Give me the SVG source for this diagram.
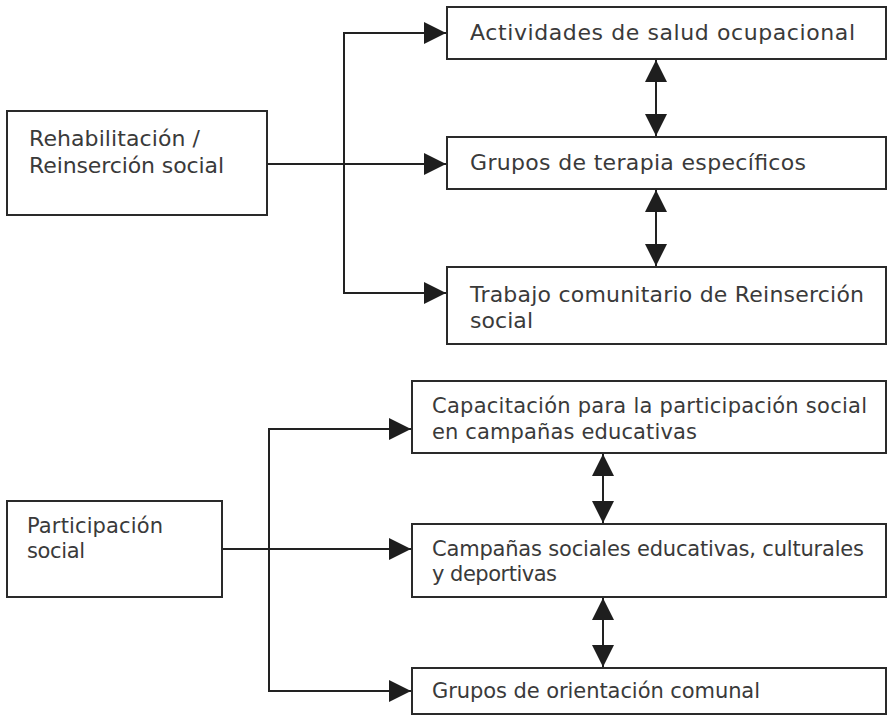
<svg xmlns="http://www.w3.org/2000/svg" width="888" height="716" viewBox="0 0 888 716">
  <style>
    .box { fill: #ffffff; stroke: #2a2a2a; stroke-width: 2; }
    .lbl { font-family: "DejaVu Sans", "Liberation Sans", sans-serif; fill: #3a3a3a; }
    .t { font-size: 22px; }
    .b { font-size: 21px; }
    .wire { fill: none; stroke: #222222; stroke-width: 2; }
  </style>
  <defs>
    <marker id="ah" markerWidth="24" markerHeight="24" refX="22" refY="11" orient="auto-start-reverse" markerUnits="userSpaceOnUse">
      <path d="M0,0 L22,11 L0,22 z" fill="#1e1e1e"/>
    </marker>
  </defs>

  <rect width="888" height="716" fill="#ffffff"/>

  <!-- connectors -->
  <g id="connectors">
    <!-- upper tree -->
    <path class="wire" d="M267,164 H344"/>
    <path class="wire" d="M446,33 H344 V293 H446" marker-end="url(#ah)"/>
    <path class="wire" d="M344,33 H446" marker-end="url(#ah)"/>
    <path class="wire" d="M344,164 H446" marker-end="url(#ah)"/>
    <path class="wire" d="M656,60 V136" marker-start="url(#ah)" marker-end="url(#ah)"/>
    <path class="wire" d="M656,190 V266" marker-start="url(#ah)" marker-end="url(#ah)"/>
    <!-- lower tree -->
    <path class="wire" d="M222,549 H269"/>
    <path class="wire" d="M411,429 H269 V691 H411" marker-end="url(#ah)"/>
    <path class="wire" d="M269,429 H411" marker-end="url(#ah)"/>
    <path class="wire" d="M269,549 H411" marker-end="url(#ah)"/>
    <path class="wire" d="M603,454 V523" marker-start="url(#ah)" marker-end="url(#ah)"/>
    <path class="wire" d="M603,598 V667" marker-start="url(#ah)" marker-end="url(#ah)"/>
  </g>

  <!-- upper group -->
  <g id="rehabilitacion">
    <rect class="box" x="7" y="111" width="260" height="104"/>
    <text class="lbl t" x="29" y="146" textLength="171">Rehabilitación /</text>
    <text class="lbl t" x="29" y="173" textLength="195">Reinserción social</text>
  </g>
  <g id="salud-ocupacional">
    <rect class="box" x="447" y="7" width="439" height="52"/>
    <text class="lbl t" x="470" y="40" textLength="385">Actividades de salud ocupacional</text>
  </g>
  <g id="grupos-terapia">
    <rect class="box" x="447" y="137" width="439" height="52"/>
    <text class="lbl t" x="470" y="170" textLength="336">Grupos de terapia específicos</text>
  </g>
  <g id="trabajo-comunitario">
    <rect class="box" x="447" y="267" width="439" height="77"/>
    <text class="lbl t" x="470" y="302" textLength="394">Trabajo comunitario de Reinserción</text>
    <text class="lbl t" x="470" y="328" textLength="63">social</text>
  </g>

  <!-- lower group -->
  <g id="participacion">
    <rect class="box" x="7" y="501" width="215" height="96"/>
    <text class="lbl b" x="27" y="533" textLength="136">Participación</text>
    <text class="lbl b" x="27" y="558" textLength="58">social</text>
  </g>
  <g id="capacitacion">
    <rect class="box" x="412" y="381" width="474" height="72"/>
    <text class="lbl b" x="432" y="413" textLength="435">Capacitación para la participación social</text>
    <text class="lbl b" x="432" y="439" textLength="265">en campañas educativas</text>
  </g>
  <g id="campanas">
    <rect class="box" x="412" y="524" width="474" height="73"/>
    <text class="lbl b" x="432" y="556" textLength="432">Campañas sociales educativas, culturales</text>
    <text class="lbl b" x="432" y="581" textLength="125">y deportivas</text>
  </g>
  <g id="orientacion">
    <rect class="box" x="412" y="668" width="474" height="46"/>
    <text class="lbl b" x="432" y="698" textLength="328">Grupos de orientación comunal</text>
  </g>
</svg>
